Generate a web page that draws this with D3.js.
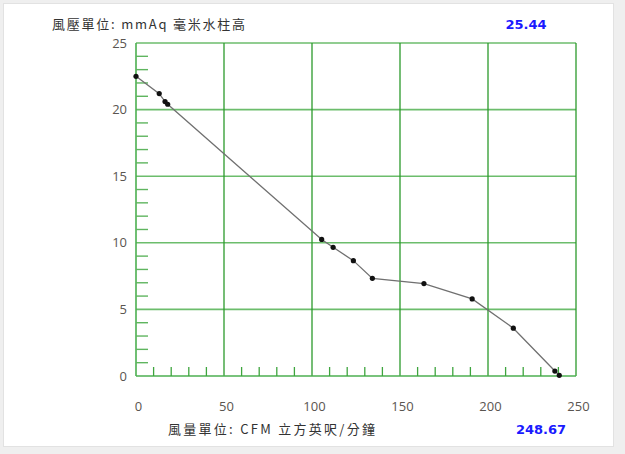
<!DOCTYPE html>
<html>
<head>
<meta charset="utf-8">
<title>風量風壓曲線</title>
<script src="https://d3js.org/d3.v7.min.js"></script>
<style>
  html, body { margin: 0; padding: 0; background: #efefef; }
  svg { display: block; }
</style>
</head>
<body>
<div id="chart"></div>
<script>
// data
const flow = [0, 13.2, 16.5, 18, 105.5, 112, 123.5, 134.3, 163.6, 191, 214.4, 238, 240.5];
const pressure = [22.5, 21.2, 20.6, 20.4, 10.25, 9.66, 8.66, 7.33, 6.94, 5.79, 3.59, 0.37, 0.05];

const xTicks = [0, 50, 100, 150, 200, 250];
const yTicks = [0, 5, 10, 15, 20, 25];
const xMinor = d3.range(0, 251, 10).filter(d => d % 50 !== 0);
const yMinor = d3.range(0, 26, 1).filter(d => d % 5 !== 0);

const pressureTitle = "風壓單位:  mmAq 毫米水柱高";
const flowTitle = "風量單位:  CFM 立方英呎/分鐘";
const maxPressure = "25.44";
const maxFlow = "248.67";

const width = 625, height = 454;
const plotLeft = 136, plotRight = 576, plotTop = 43, plotBottom = 376;

const x = d3.scaleLinear().domain([0, 250]).range([plotLeft, plotRight]);
const y = d3.scaleLinear().domain([0, 25]).range([plotBottom, plotTop]);

const svg = d3.select("#chart")
  .append("svg")
    .attr("width", width)
    .attr("height", height);

// white panel
svg.append("rect")
  .attr("x", 3.5).attr("y", 3.5)
  .attr("width", 610).attr("height", 443)
  .attr("fill", "#fff")
  .attr("stroke", "#e2e2e2");

const cjk = "'Noto Sans CJK TC', 'Noto Sans', sans-serif";

// horizontal grid
svg.append("g")
  .selectAll("line")
  .data(yTicks.filter(d => d > 0))
  .join("line")
    .attr("x1", plotLeft).attr("x2", plotRight)
    .attr("y1", d => y(d)).attr("y2", d => y(d))
    .attr("stroke", "#6cbd6c")
    .attr("stroke-width", 1.6);

// vertical grid
svg.append("g")
  .selectAll("line")
  .data(xTicks.filter(d => d > 0))
  .join("line")
    .attr("x1", d => x(d)).attr("x2", d => x(d))
    .attr("y1", plotTop).attr("y2", plotBottom)
    .attr("stroke", "#2b9a2b")
    .attr("stroke-width", 1.3);

// axis lines
svg.append("line")
  .attr("x1", plotLeft).attr("x2", plotLeft).attr("y1", plotTop).attr("y2", plotBottom)
  .attr("stroke", "#4caf50").attr("stroke-width", 1.6);
svg.append("line")
  .attr("x1", plotLeft).attr("x2", plotRight).attr("y1", plotBottom).attr("y2", plotBottom)
  .attr("stroke", "#4caf50").attr("stroke-width", 1.6);

// minor ticks
svg.append("g")
  .selectAll("line")
  .data(yMinor)
  .join("line")
    .attr("x1", plotLeft).attr("x2", plotLeft + 12)
    .attr("y1", d => y(d)).attr("y2", d => y(d))
    .attr("stroke", "#5fb55f").attr("stroke-width", 1.4);
svg.append("g")
  .selectAll("line")
  .data(xMinor)
  .join("line")
    .attr("x1", d => x(d)).attr("x2", d => x(d))
    .attr("y1", plotBottom).attr("y2", plotBottom - 9)
    .attr("stroke", "#3ea53e").attr("stroke-width", 1.3);

// tick labels via axes, no tick marks
const yAxis = svg.append("g")
  .attr("transform", `translate(${plotLeft - 9},0)`)
  .call(d3.axisLeft(y).tickValues(yTicks).tickSize(0).tickPadding(0));
const xAxis = svg.append("g")
  .attr("transform", `translate(2,${plotBottom + 26})`)
  .call(d3.axisBottom(x).tickValues(xTicks).tickSize(0).tickPadding(0));
[yAxis, xAxis].forEach(a => {
  a.select(".domain").remove();
  a.selectAll("text")
    .attr("fill", "#5a5550")
    .style("font-family", "'Open Sans', sans-serif")
    .style("font-size", "13px");
});

// curve
const line = d3.line()
  .x((d, i) => x(flow[i]))
  .y(d => y(d));
svg.append("path")
  .datum(pressure)
  .attr("d", line)
  .attr("fill", "none")
  .attr("stroke", "#707070")
  .attr("stroke-width", 1.3);

svg.append("g")
  .selectAll("circle")
  .data(pressure)
  .join("circle")
    .attr("cx", (d, i) => x(flow[i]))
    .attr("cy", d => y(d))
    .attr("r", 2.6)
    .attr("fill", "#111");

// titles
svg.append("text")
  .attr("x", 52).attr("y", 28.5)
  .attr("fill", "#333")
  .attr("textLength", 193)
  .attr("lengthAdjust", "spacing")
  .style("font-family", cjk)
  .style("font-size", "13px")
  .text(pressureTitle);
svg.append("text")
  .attr("x", 168).attr("y", 434)
  .attr("fill", "#333")
  .attr("textLength", 207)
  .attr("lengthAdjust", "spacing")
  .style("font-family", cjk)
  .style("font-size", "13px")
  .text(flowTitle);

svg.append("text")
  .attr("x", 526).attr("y", 29)
  .attr("text-anchor", "middle")
  .attr("fill", "#1a1aff")
  .style("font-family", "'DejaVu Sans', sans-serif")
  .style("font-weight", "bold")
  .style("font-size", "13px")
  .text(maxPressure);
svg.append("text")
  .attr("x", 541).attr("y", 434)
  .attr("text-anchor", "middle")
  .attr("fill", "#1a1aff")
  .style("font-family", "'DejaVu Sans', sans-serif")
  .style("font-weight", "bold")
  .style("font-size", "13px")
  .text(maxFlow);
</script>
</body>
</html>
